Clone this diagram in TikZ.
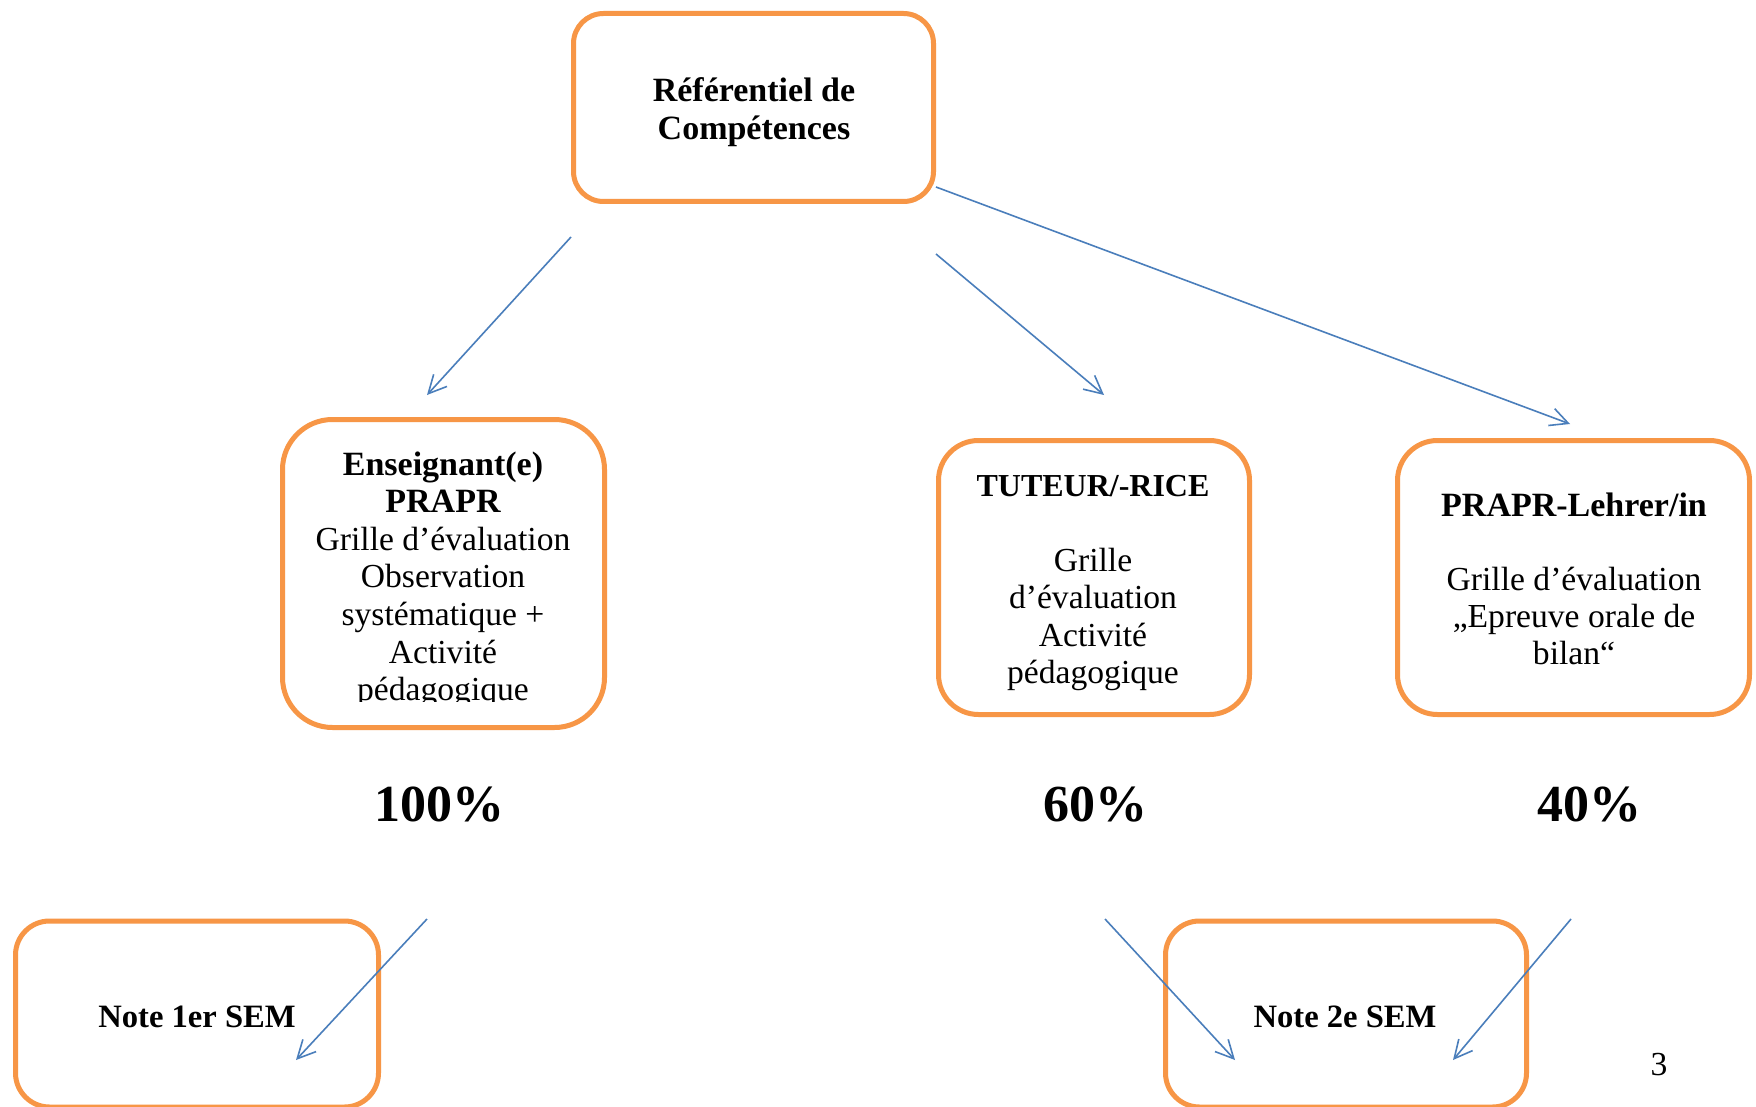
\documentclass[tikz,border=0pt]{standalone}
\usepackage{fontspec}
\setmainfont{Liberation Serif}
\usetikzlibrary{arrows.meta}
\definecolor{boxorange}{HTML}{F79646}
\definecolor{arrowblue}{HTML}{4A7EBB}
\begin{document}
\begin{tikzpicture}[x=0.5pt,y=-0.5pt,
  box/.style={draw=boxorange, line width=2.5pt, rounded corners=#1, inner sep=0pt, fill=none},
  box/.default=18pt,
  bold/.style={font=\fontsize{17}{18.5}\selectfont\bfseries, inner sep=0pt, anchor=base},
  reg/.style={font=\fontsize{16.8}{18.5}\selectfont, inner sep=0pt, anchor=base},
  pct/.style={font=\fontsize{26}{30}\selectfont\bfseries, inner sep=0pt, anchor=base},
  conn/.style={draw=arrowblue, line width=0.8pt, -{Straight Barb[length=9pt,width=9pt]}}]
\fill[white] (0,0) rectangle (1756,1107);
\useasboundingbox (0,0) rectangle (1756,1107);

% boxes
\node[box=15pt, minimum width=180pt, minimum height=94pt] (ref) at (753.5,107.5) {};
\node[box=25pt, minimum width=161pt, minimum height=154pt] (ens) at (443.5,573.5) {};
\node[box=20pt, minimum width=155.5pt, minimum height=137pt] (tut) at (1094,577.5) {};
\node[box=20pt, minimum width=176pt, minimum height=137pt] (leh) at (1573.5,577.5) {};
\node[box=17pt, minimum width=181.5pt, minimum height=93pt] (n1) at (197,1014) {};
\node[box=17pt, minimum width=180.5pt, minimum height=93pt] (n2) at (1346,1014) {};

% texts
\node[bold] (refa) at (754,102) {Référentiel de};
\node[bold] (refb) at (754,140) {Compétences};

\begin{scope}
\clip (280,400) rectangle (607,701);
\node[bold] (ensa) at (443,475) {Enseignant(e)};
\node[bold] (ensb) at (443,512.6) {PRAPR};
\foreach \t [count=\i] in {Grille d’évaluation,Observation,systématique +,Activité,pédagogique}
  \node[reg] (ens\i) at (443,{550.2+37.6*(\i-1)}) {\t};
\end{scope}

\node[bold, font=\fontsize{16}{18.5}\selectfont\bfseries] (tuta) at (1093,496) {TUTEUR/-RICE};
\foreach \t [count=\i] in {Grille,d’évaluation,Activité,pédagogique}
  \node[reg] (tut\i) at (1093,{571+37.6*(\i-1)}) {\t};

\node[bold] (leha) at (1574,516) {PRAPR-Lehrer/in};
\foreach \t [count=\i] in {Grille d’évaluation,„Epreuve orale de,bilan“}
  \node[reg] (leh\i) at (1574,{590+37.4*(\i-1)}) {\t};

\node[pct] (p100) at (439,821) {100\%};
\node[pct] (p60) at (1095,821) {60\%};
\node[pct] (p40) at (1589,821) {40\%};

\node[bold, font=\fontsize{16.3}{18.5}\selectfont\bfseries] (n1t) at (197,1027) {Note 1er SEM};
\node[bold, font=\fontsize{16.3}{18.5}\selectfont\bfseries] (n2t) at (1345,1027) {Note 2e SEM};
\node[reg] (page) at (1659,1075) {3};

% arrow end points
\coordinate (a1s) at (571,237);  \coordinate (a1e) at (427,395);
\coordinate (a2s) at (936,254);  \coordinate (a2e) at (1104,395);
\coordinate (a3s) at (936,187);  \coordinate (a3e) at (1570,424);
\coordinate (a4s) at (427,919);  \coordinate (a4e) at (296,1060);
\coordinate (a5s) at (1105,919); \coordinate (a5e) at (1235,1060);
\coordinate (a6s) at (1571,919); \coordinate (a6e) at (1453,1060);

\draw[conn] (a1s) -- (a1e);
\draw[conn] (a2s) -- (a2e);
\draw[conn] (a3s) -- (a3e);
\draw[conn] (a4s) -- (a4e);
\draw[conn] (a5s) -- (a5e);
\draw[conn] (a6s) -- (a6e);
\end{tikzpicture}
\end{document}
